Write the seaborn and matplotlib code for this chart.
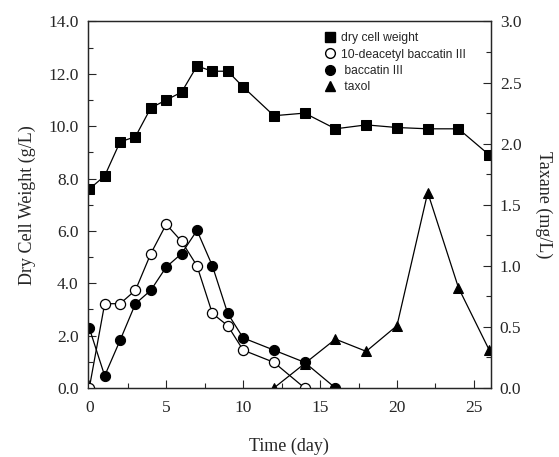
import matplotlib
matplotlib.use("Agg")
import matplotlib.pyplot as plt
from matplotlib.lines import Line2D
from matplotlib.ticker import MultipleLocator, FormatStrFormatter
import seaborn as sns

# dry cell weight (g/L)
days_dcw = [0, 1, 2, 3, 4, 5, 6, 7, 8, 9, 10, 12, 14, 16, 18, 20, 22, 24, 26]
dcw = [7.6, 8.1, 9.4, 9.6, 10.7, 11.0, 11.3, 12.3, 12.1, 12.1, 11.5,
       10.4, 10.5, 9.9, 10.05, 9.95, 9.9, 9.9, 8.9]

# taxanes (mg/L)
days_dab = [0, 1, 2, 3, 4, 5, 6, 7, 8, 9, 10, 12, 14]
dab = [0.0, 0.69, 0.69, 0.80, 1.10, 1.34, 1.20, 1.00, 0.61, 0.51, 0.31, 0.21, 0.0]

days_bac = [0, 1, 2, 3, 4, 5, 6, 7, 8, 9, 10, 12, 14, 16]
bac = [0.49, 0.10, 0.39, 0.69, 0.80, 0.99, 1.10, 1.29, 1.00, 0.61, 0.41, 0.31, 0.21, 0.0]

days_tax = [12, 14, 16, 18, 20, 22, 24, 26]
tax = [0.0, 0.20, 0.40, 0.30, 0.51, 1.60, 0.82, 0.31]

legend_labels = ["dry cell weight", "10-deacetyl baccatin III", " baccatin III", " taxol"]

sns.set_style("ticks")
plt.rcParams["font.family"] = ["Liberation Serif", "DejaVu Serif"]

fig = plt.figure(figsize=(5.59, 4.57), dpi=100)
ax = fig.add_axes([0.157, 0.151, 0.721, 0.802])
ax2 = ax.twinx()

lw = 0.9
ms = 7.3
sns.lineplot(x=days_dcw, y=dcw, ax=ax, color="k", lw=lw, marker="s", ms=ms,
             markeredgecolor="k", markerfacecolor="k")
sns.lineplot(x=days_dab, y=dab, ax=ax2, color="k", lw=lw, marker="o", ms=ms,
             markeredgecolor="k", markerfacecolor="white", markeredgewidth=0.9)
sns.lineplot(x=days_bac, y=bac, ax=ax2, color="k", lw=lw, marker="o", ms=ms,
             markeredgecolor="k", markerfacecolor="k")
sns.lineplot(x=days_tax, y=tax, ax=ax2, color="k", lw=lw, marker="^", ms=ms,
             markeredgecolor="k", markerfacecolor="k")

ax.set_xlim(-0.1, 26.1)
ax.set_ylim(0, 14)
ax2.set_ylim(0, 3)

ax.xaxis.set_major_locator(MultipleLocator(5))
ax.xaxis.set_minor_locator(MultipleLocator(2.5))
ax.yaxis.set_major_locator(MultipleLocator(2))
ax.yaxis.set_minor_locator(MultipleLocator(1))
ax.yaxis.set_major_formatter(FormatStrFormatter("%.1f"))
ax2.yaxis.set_major_locator(MultipleLocator(0.5))
ax2.yaxis.set_minor_locator(MultipleLocator(0.25))
ax2.yaxis.set_major_formatter(FormatStrFormatter("%.1f"))

for a in (ax, ax2):
    a.tick_params(which="both", direction="in", width=0.8, labelsize=12.5,
                  top=False)
    a.tick_params(which="major", length=6)
    a.tick_params(which="minor", length=3.5)
    for s in a.spines.values():
        s.set_visible(True)
        s.set_linewidth(0.9)
ax.tick_params(axis="y", pad=6.5, right=False)
ax.tick_params(axis="x", pad=9)
ax2.tick_params(axis="y", pad=6.5)

ax.set_xlabel("Time (day)", fontsize=13, labelpad=15.5)
ax.set_ylabel("Dry Cell Weight (g/L)", fontsize=13, labelpad=9)
ax2.set_ylabel("Taxane (mg/L)", fontsize=13, rotation=270, labelpad=22)

handles = [
    Line2D([], [], ls="none", marker="s", ms=7, color="k"),
    Line2D([], [], ls="none", marker="o", ms=7, mec="k", mfc="white"),
    Line2D([], [], ls="none", marker="o", ms=7, color="k"),
    Line2D([], [], ls="none", marker="^", ms=7, color="k"),
]
ax2.legend(handles, legend_labels, loc="upper left", bbox_to_anchor=(0.56, 1.0),
           frameon=False, handlelength=1.0, handletextpad=0.4, labelspacing=0.35,
           prop={"family": "Liberation Sans", "size": 8.7})

fig.savefig("out.png", dpi=100)
